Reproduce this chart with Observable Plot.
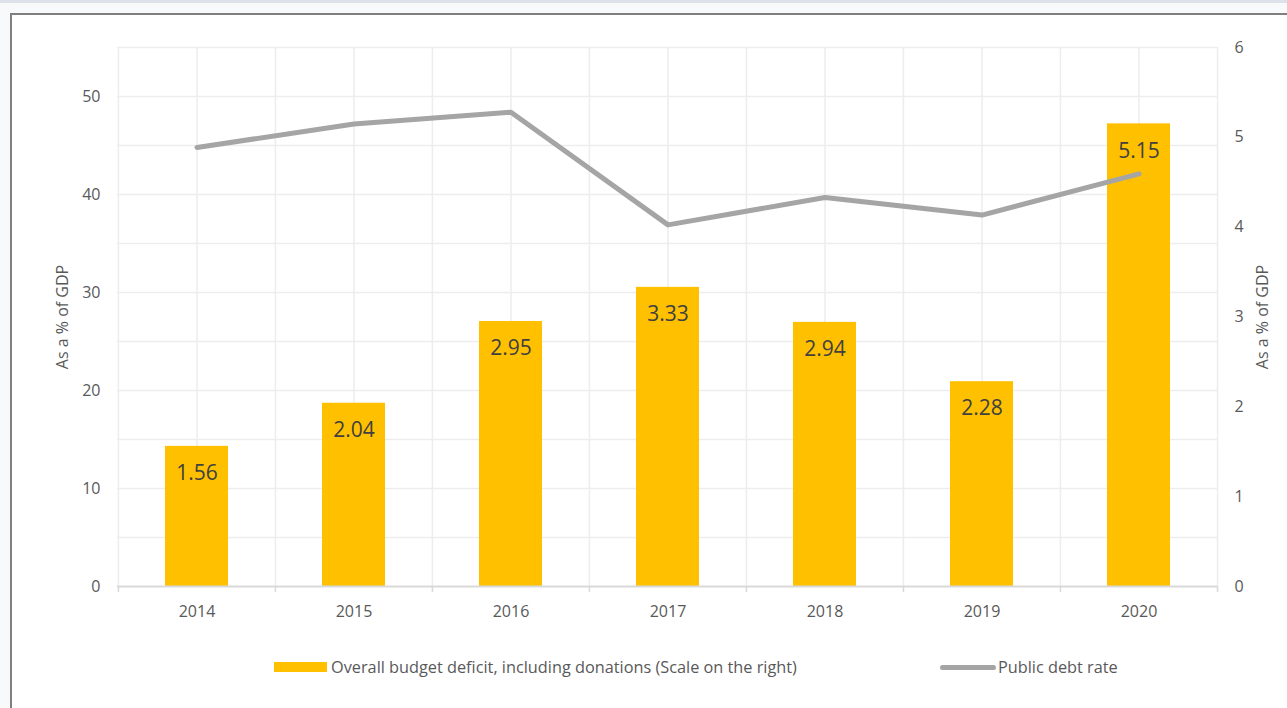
<!DOCTYPE html>
<html>
<head>
<meta charset="utf-8">
<script src="https://cdn.jsdelivr.net/npm/d3@7"></script>
<script src="https://cdn.jsdelivr.net/npm/@observablehq/plot@0.6"></script>
<style>
  html, body { margin: 0; padding: 0; }
  body { width: 1287px; height: 708px; overflow: hidden; background: #f8f9fb; position: relative; font-family: "Open Sans", sans-serif; }
  #strip { position: absolute; left: 0; top: 0; width: 1287px; height: 3px; background: #dde2ea; }
  #frame { position: absolute; left: 10px; top: 13px; width: 1300px; height: 720px; border-left: 2px solid #7f7f7f; border-top: 2px solid #7f7f7f; background: #fff; }
  #chart { position: absolute; left: 0; top: 0; }
  .legend { position: absolute; font-size: 16.3px; color: #595959; white-space: nowrap; line-height: 20px; }
  .sw-bar { position: absolute; left: 274px; top: 662px; width: 53px; height: 10px; background: #FFC000; }
  .sw-line { position: absolute; left: 940px; top: 665px; width: 56px; height: 5px; border-radius: 3px; background: #a5a5a5; }
</style>
</head>
<body>
<div id="strip"></div>
<div id="frame"></div>
<div id="chart"></div>
<div class="sw-bar"></div>
<div class="legend" style="left:331px; top:657px;">Overall budget deficit, including donations (Scale on the right)</div>
<div class="sw-line"></div>
<div class="legend" style="left:998px; top:657px;">Public debt rate</div>
<script>
const years = ["2014", "2015", "2016", "2017", "2018", "2019", "2020"];
const deficit = [1.56, 2.04, 2.95, 3.33, 2.94, 2.28, 5.15];   // right scale
const debt = [44.8, 47.2, 48.4, 36.9, 39.7, 37.9, 42.1];      // left scale
const leftTicks = [0, 10, 20, 30, 40, 50];
const leftGrid = [5, 10, 15, 20, 25, 30, 35, 40, 45, 50, 55];
const rightTicks = [0, 1, 2, 3, 4, 5, 6];
const leftMax = 55;
const rightMax = 6;
const axisTitle = "As a % of GDP";

const toRight = v => v * rightMax / leftMax;
const data = years.map((y, i) => ({year: y, deficit: deficit[i], debt: toRight(debt[i])}));

const W = 1287, mL = 117, mR = 70;
const step = (W - mL - mR) / years.length;
const gridColor = "#ededed";
const textColor = "#595959";

const chart = Plot.plot({
  width: W,
  height: 626,
  marginLeft: mL,
  marginRight: mR,
  marginTop: 47,
  marginBottom: 40,
  style: {fontFamily: "'Open Sans', sans-serif", fontSize: "16px", color: textColor, background: "transparent", overflow: "visible"},
  x: {type: "band", domain: years, paddingInner: 0.6, paddingOuter: 0.3, align: 0.5},
  y: {domain: [0, rightMax]},
  marks: [
    Plot.ruleY(leftGrid.map(toRight), {stroke: gridColor, strokeWidth: 1.5}),
    Plot.ruleX(years, {stroke: gridColor, strokeWidth: 1.5}),
    Plot.ruleX(years, {dx: -step / 2, stroke: gridColor, strokeWidth: 1.5}),
    Plot.ruleX([years[years.length - 1]], {dx: step / 2, stroke: gridColor, strokeWidth: 1.5}),
    Plot.barY(data, {x: "year", y: "deficit", fill: "#FFC000"}),
    Plot.ruleY([0], {stroke: "#d9d9d9", strokeWidth: 2}),
    Plot.ruleX(years, {y1: 0, y2: 0, insetBottom: -6, dx: -step / 2, stroke: "#d9d9d9", strokeWidth: 1.5}),
    Plot.ruleX([years[years.length - 1]], {y1: 0, y2: 0, insetBottom: -6, dx: step / 2, stroke: "#d9d9d9", strokeWidth: 1.5}),
    Plot.text(data, {x: "year", y: "deficit", text: d => d.deficit.toFixed(2), dy: 27, fontSize: 21, fill: "#404040"}),
    Plot.line(data, {x: "year", y: "debt", stroke: "#a5a5a5", strokeWidth: 5, strokeLinecap: "round", strokeLinejoin: "round"}),
    Plot.axisX({tickSize: 0, tickPadding: 19, fill: textColor, label: null}),
    Plot.axisY(leftTicks.map(toRight), {anchor: "left", tickSize: 0, tickPadding: 17, tickFormat: d => String(Math.round(d * leftMax / rightMax)), fill: textColor, label: null}),
    Plot.axisY(rightTicks, {anchor: "right", tickSize: 0, tickPadding: 17, tickFormat: d => String(d), fill: textColor, label: null}),
    Plot.text([axisTitle], {frameAnchor: "left", textAnchor: "middle", dx: -55, rotate: -90, fontSize: 16, fill: textColor}),
    Plot.text([axisTitle], {frameAnchor: "right", textAnchor: "middle", dx: 45, rotate: -90, fontSize: 16, fill: textColor})
  ]
});
document.getElementById("chart").appendChild(chart);
</script>
</body>
</html>
